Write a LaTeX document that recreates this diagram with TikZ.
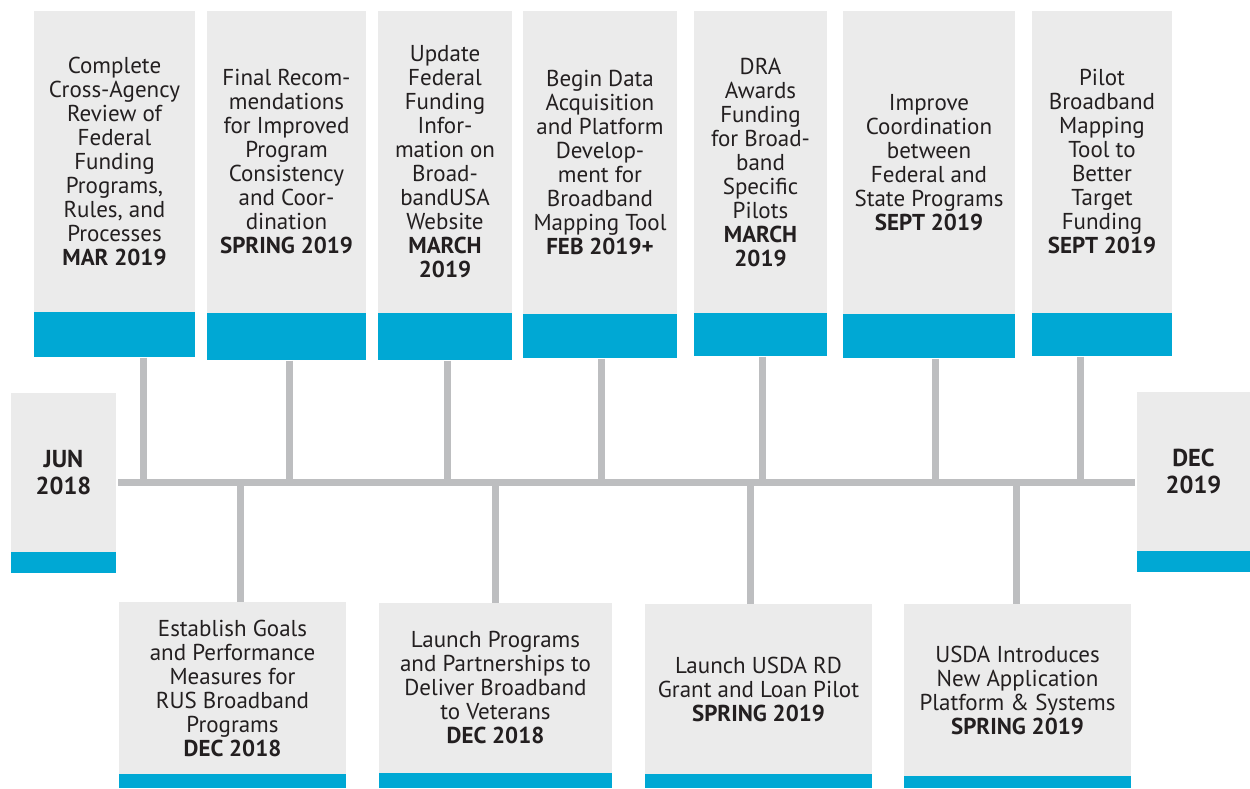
\documentclass[tikz,border=0pt]{standalone}
\usepackage{fontspec}
\setmainfont{PT Sans}
\usepackage{xcolor}
\usetikzlibrary{positioning}

\definecolor{cardgrey}{HTML}{EBEBEB}
\definecolor{bandblue}{HTML}{00A8D4}
\definecolor{stemgrey}{HTML}{BDBEC0}
\definecolor{inkblack}{HTML}{231F20}

\tikzset{
  card/.style={fill=cardgrey, inner sep=0pt, align=center, text=inkblack,
    font=\fontsize{23}{24}\selectfont},
  endcard/.style={card, font=\fontsize{24.5}{27}\selectfont\bfseries},
  band/.style={fill=bandblue, inner sep=0pt},
  stem/.style={stemgrey, line width=7pt},
}

\begin{document}
\begin{tikzpicture}[x=1pt, y=-1pt]
\useasboundingbox (0,0) rectangle (1250,788);

% Milestones above the line
\foreach \n/\l/\r/\g/\b/\txt in {
  t1/34/195/312/357/{Complete\\Cross-Agency\\Review of\\Federal\\Funding\\Programs,\\Rules, and\\Processes\\\textbf{MAR 2019}},
  t2/207/366/313/360/{Final Recom-\\mendations\\for Improved\\Program\\Consistency\\and Coor-\\dination\\\textbf{SPRING 2019}},
  t3/378/512/313/360/{Update\\Federal\\Funding\\Infor-\\mation on\\Broad-\\bandUSA\\Website\\\textbf{MARCH}\\\textbf{2019}},
  t4/523/677/314/358/{Begin Data\\Acquisition\\and Platform\\Develop-\\ment for\\Broadband\\Mapping Tool\\\textbf{FEB 2019+}},
  t5/694/827/313/356/{DRA\\Awards\\Funding\\for Broad-\\band\\Specific\\Pilots\\\textbf{MARCH}\\\textbf{2019}},
  t6/843/1015/314/358/{Improve\\Coordination\\between\\Federal and\\State Programs\\\textbf{SEPT 2019}},
  t7/1032/1172/313/356/{Pilot\\Broadband\\Mapping\\Tool to\\Better\\Target\\Funding\\\textbf{SEPT 2019}}} {
  \node[card, minimum width=\r-\l, minimum height=\g-11] (\n) at ({(\l+\r)/2},{(11+\g)/2}) {\txt};
  \node[band, minimum width=\r-\l, minimum height=\b-\g, below=0pt of \n] (\n-b) {};
}

% Milestones below the line
\foreach \n/\l/\r/\t/\g/\txt in {
  b1/119/346/602/774/{Establish Goals\\and Performance\\Measures for\\RUS Broadband\\Programs\\\textbf{DEC 2018}},
  b2/379/612/603/773/{Launch Programs\\and Partnerships to\\Deliver Broadband\\to Veterans\\\textbf{DEC 2018}},
  b3/645/872/604/774/{Launch USDA RD\\Grant and Loan Pilot\\\textbf{SPRING 2019}},
  b4/904/1131/604/776/{USDA Introduces\\New Application\\Platform \& Systems\\\textbf{SPRING 2019}}} {
  \node[card, minimum width=\r-\l, minimum height=\g-\t] (\n) at ({(\l+\r)/2},{(\t+\g)/2}) {\txt};
  \node[band, minimum width=\r-\l, minimum height=788-\g, below=0pt of \n] (\n-b) {};
}

% Start and end of the timeline
\node[endcard, minimum width=105, minimum height=159] (jun) at (63.5,472.5) {JUN\\2018};
\node[band, minimum width=105, minimum height=21, below=0pt of jun] (jun-b) {};
\node[endcard, minimum width=113, minimum height=159] (dec) at (1193.5,471.5) {DEC\\2019};
\node[band, minimum width=113, minimum height=21, below=0pt of dec] (dec-b) {};

\coordinate (axis) at (0,482.5);
\draw[stem] ([xshift=2pt]jun.east |- axis) -- ([xshift=-2pt]dec.west |- axis);

% Stems
\foreach \n/\sx in {t1/143, t2/289, t3/447, t4/601, t5/762, t6/935, t7/1080}
  \draw[stem] (\sx,0 |- \n-b.south) -- (\sx,0 |- axis);
\foreach \n/\sx in {b1/240, b2/495, b3/750, b4/1016}
  \draw[stem] (\sx,0 |- axis) -- (\sx,0 |- \n.north);
\end{tikzpicture}
\end{document}
